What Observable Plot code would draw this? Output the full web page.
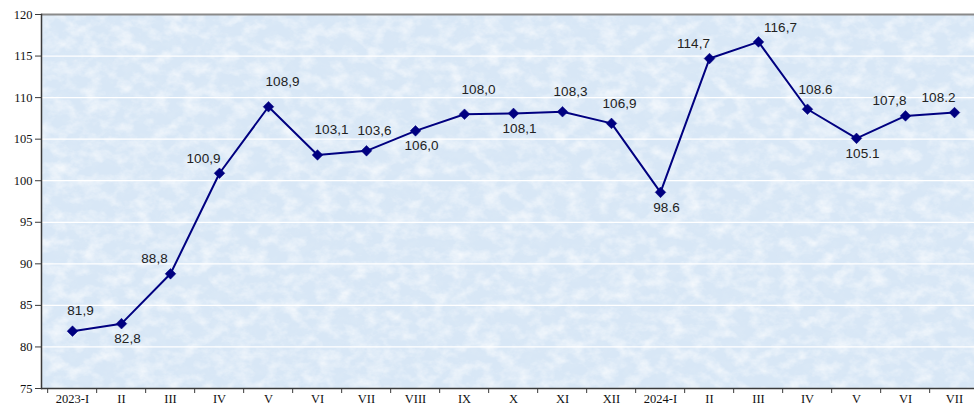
<!DOCTYPE html>
<html>
<head>
<meta charset="utf-8">
<script src="https://cdn.jsdelivr.net/npm/d3@7"></script>
<script src="https://cdn.jsdelivr.net/npm/@observablehq/plot@0.6"></script>
<style>
  html, body { margin: 0; padding: 0; background: #ffffff; overflow: hidden; }
</style>
</head>
<body>
<div id="chart"></div>
<script>
// ---- data ----
const categories = ["2023-I","II","III","IV","V","VI","VII","VIII","IX","X","XI","XII","2024-I","II","III","IV","V","VI","VII"];
const values = [81.9, 82.8, 88.8, 100.9, 108.9, 103.1, 103.6, 106.0, 108.0, 108.1, 108.3, 106.9, 98.6, 114.7, 116.7, 108.6, 105.1, 107.8, 108.2];
const labels = ["81,9","82,8","88,8","100,9","108,9","103,1","103,6","106,0","108,0","108,1","108,3","106,9","98.6","114,7","116,7","108.6","105.1","107,8","108.2"];
const labelSide = ["above","below","aboveLeft","aboveLeft","aboveRight","aboveRight","above","below","aboveRight","below","above","above","below","aboveLeft","right","above","below","aboveLeft","aboveLeft"];
const yTicks = [75, 80, 85, 90, 95, 100, 105, 110, 115, 120];

// ---- build ----
const data = values.map((v, i) => ({i, v, label: labels[i], side: labelSide[i]}));
const idx = d3.range(categories.length);
const W = 974, H = 405;
const mL = 41, mT = 14, mB = 17;
const xRange = [mL, 985];
const step = (xRange[1] - xRange[0]) / categories.length;

const sideOffsets = {
  above: [8, -20],
  aboveRight: [14, -25],
  right: [22, -14],
  aboveLeft: [-16, -15],
  below: [6, 15]
};
const labelMarks = Object.entries(sideOffsets).map(([side, [dx, dy]]) =>
  Plot.text(data.filter(d => d.side === side), {
    x: "i", y: "v", text: "label", dx, dy,
    fontFamily: "Liberation Sans, Arial, sans-serif", fontSize: 13.5, fill: "#222222"
  })
);

const svg = Plot.plot({
  width: W, height: H,
  marginLeft: mL, marginTop: mT, marginBottom: mB, marginRight: 0,
  style: {fontFamily: "Liberation Serif, 'Times New Roman', serif", fontSize: "12px", color: "#111111", background: "#ffffff"},
  x: {type: "point", domain: idx, range: xRange, padding: 0.5},
  y: {domain: [75, 120]},
  marks: [
    Plot.frame({fill: "#d8e7f6", stroke: null}),
    Plot.frame({fill: "#ffffff", stroke: null}),
    Plot.frame({fill: "#ffffff", stroke: null}),
    Plot.gridY(yTicks.filter(t => t > 75 && t < 120), {stroke: "#ffffff", strokeOpacity: 1, strokeWidth: 1.2}),
    Plot.ruleY([120], {stroke: "#8a8a8a", strokeWidth: 2}),
    Plot.ruleY([75], {stroke: "#3a3a3a", strokeWidth: 1.5}),
    Plot.frame({anchor: "left", stroke: "#3a3a3a", strokeWidth: 1.5}),
    Plot.axisY({ticks: yTicks, label: null, tickSize: 6, tickPadding: 3, stroke: "#3a3a3a", fontSize: 12.5}),
    Plot.axisX({ticks: idx, label: null, tickSize: 5, dx: -step / 2, tickFormat: () => "", stroke: "#3a3a3a"}),
    Plot.axisX({ticks: idx, label: null, tickSize: 0, tickPadding: 6, tickFormat: i => categories[i], fontSize: 12.5}),
    Plot.line(data, {x: "i", y: "v", stroke: "#000080", strokeWidth: 2}),
    Plot.dot(data, {x: "i", y: "v", symbol: "diamond2", r: 4.8, fill: "#000080", stroke: "#000080", strokeWidth: 0.5}),
    ...labelMarks
  ]
});

// paper-like texture on the plot background
const ns = "http://www.w3.org/2000/svg";
const defs = document.createElementNS(ns, "defs");
defs.innerHTML = `
  <filter id="texLight" x="0" y="0" width="1" height="1">
    <feTurbulence type="fractalNoise" baseFrequency="0.06 0.08" numOctaves="4" seed="7" result="n"/>
    <feColorMatrix in="n" type="matrix" values="0 0 0 0 1  0 0 0 0 1  0 0 0 0 1  1.4 0 0 0 -0.58" result="a"/>
    <feComposite in="a" in2="SourceGraphic" operator="in"/>
  </filter>
  <filter id="texDark" x="0" y="0" width="1" height="1">
    <feTurbulence type="fractalNoise" baseFrequency="0.09 0.12" numOctaves="3" seed="21" result="n"/>
    <feColorMatrix in="n" type="matrix" values="0 0 0 0 0.72  0 0 0 0 0.82  0 0 0 0 0.93  1.3 0 0 0 -0.58" result="a"/>
    <feComposite in="a" in2="SourceGraphic" operator="in"/>
  </filter>`;
svg.insertBefore(defs, svg.firstChild);
const frames = svg.querySelectorAll('[aria-label="frame"]');
if (frames.length >= 3) {
  frames[1].setAttribute("filter", "url(#texDark)");
  frames[2].setAttribute("filter", "url(#texLight)");
}
document.getElementById("chart").append(svg);
</script>
</body>
</html>
